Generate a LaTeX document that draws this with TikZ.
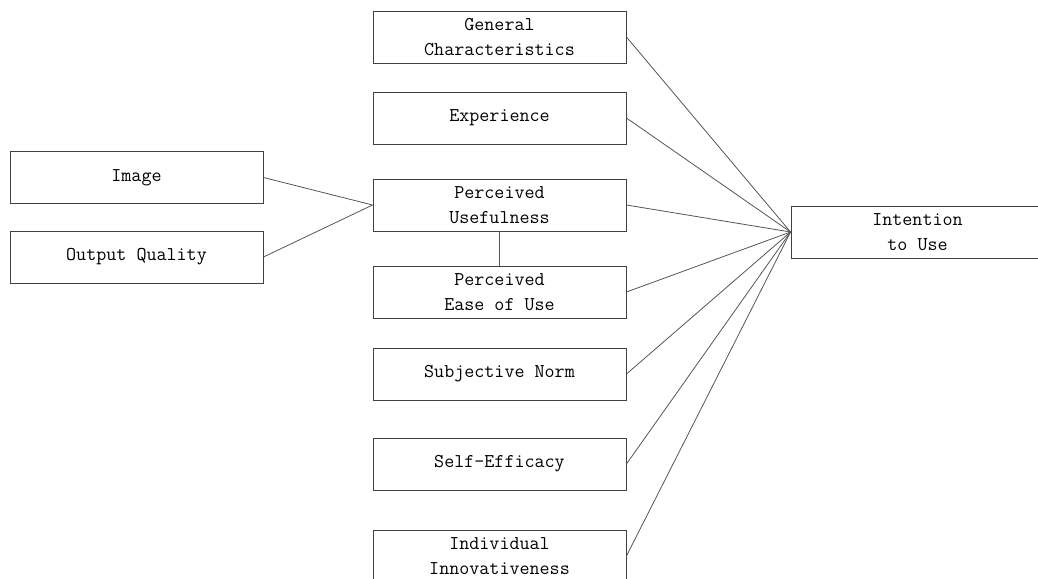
\documentclass[tikz,border=0pt]{standalone}
\usepackage{tikz}
\usetikzlibrary{positioning}
\definecolor{boxGray}{HTML}{404040}
\definecolor{lineGray}{HTML}{555555}

\begin{document}
\begin{tikzpicture}[x=1pt, y=-1pt,
    factor/.style={draw=boxGray, line width=0.9pt, minimum width=253pt, minimum height=52pt,
      inner sep=1pt, align=center, font=\ttfamily\fontsize{19.5}{25}\selectfont},
    link/.style={draw=lineGray, line width=0.8pt}]
    \useasboundingbox (0,0) rectangle (1038,578);
    \clip (0,0) rectangle (1038,578);
    % left column
    \node[factor] (img) at (136.5,177.5) {Image};
    \node[factor] (oq) at (136.5,257) {Output Quality};
    % middle column
    \node[factor] (gen) at (499.5,37) {General\\Characteristics};
    \node[factor] (exp) at (499.5,118) {Experience};
    \node[factor] (pu) at (499.5,205) {Perceived\\Usefulness};
    \node[factor] (peou) at (499.5,292) {Perceived\\Ease of Use};
    \node[factor] (sn) at (499.5,374) {Subjective Norm};
    \node[factor] (se) at (499.5,464) {Self-Efficacy};
    \node[factor] (ii) at (499.5,556) {Individual\\Innovativeness};
    % right
    \node[factor] (itu) at (917.5,232) {Intention\\to Use};

    \draw[link] (img.east) -- (pu.west);
    \draw[link] (oq.east) -- (pu.west);
    \draw[link] (pu.south) -- (peou.north);
    \foreach \n in {gen, exp, pu, peou, sn, se, ii}
      \draw[link] (\n.east) -- (itu.west);
\end{tikzpicture}
\end{document}
